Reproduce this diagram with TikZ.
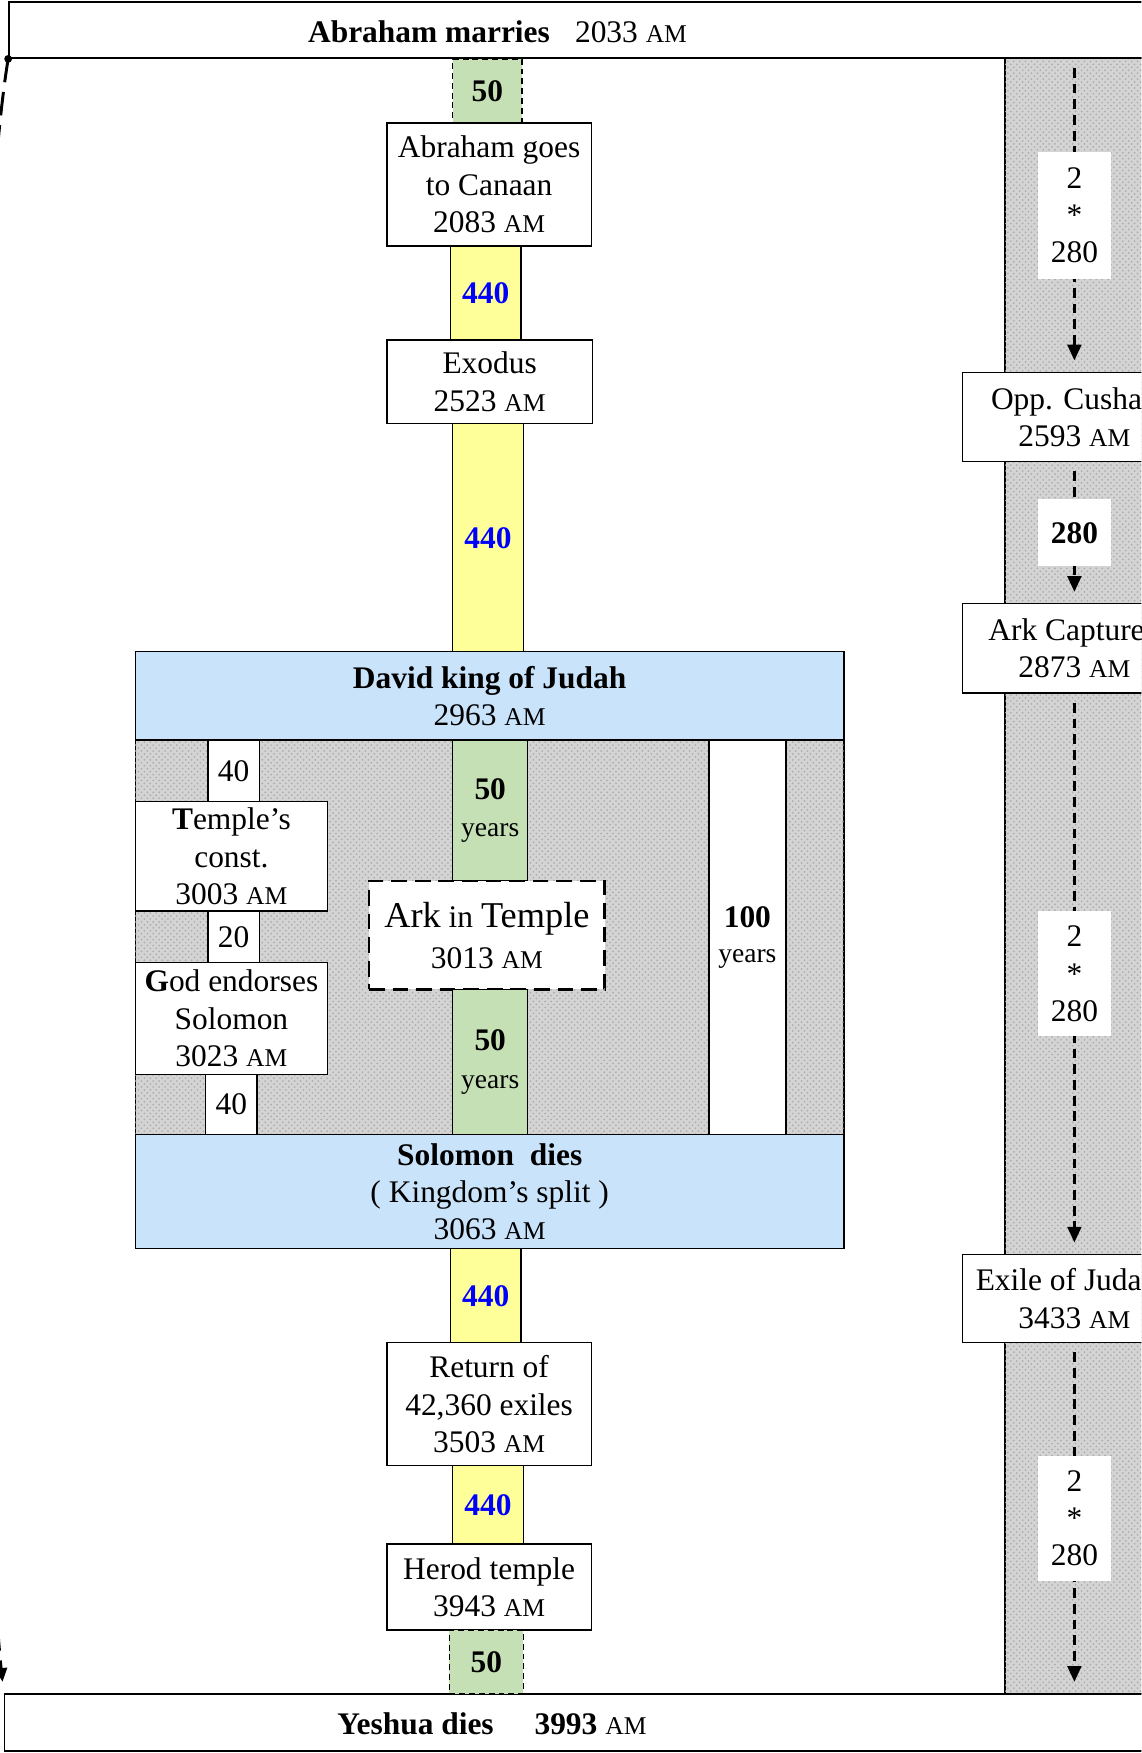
\documentclass[tikz,border=0pt]{standalone}
\usepackage{fontspec}
\setmainfont{Liberation Serif}
\usetikzlibrary{arrows.meta, positioning, patterns}
\definecolor{spangreen}{HTML}{C5E0B4}
\definecolor{spanyellow}{HTML}{FFFF99}
\definecolor{kingblue}{HTML}{C9E3FB}
\definecolor{yrblue}{HTML}{0000FF}
\newcommand{\amsc}{{\fontsize{13}{19}\selectfont AM}}
\tikzset{
  event/.style={draw, fill=white, line width=0.7pt, align=center, inner sep=0pt},
  bar/.style={draw, fill=white, line width=0.8pt, inner sep=0pt},
  king/.style={event, fill=kingblue},
  yspan/.style={draw, fill=spanyellow, line width=0.7pt, inner sep=0pt, text=yrblue, font=\fontsize{16}{19}\selectfont\bfseries},
  gspan/.style={draw, fill=spangreen, line width=0.7pt, inner sep=0pt, align=center},
  gdash/.style={gspan, dash pattern=on 3pt off 2pt},
  tick/.style={event, minimum width=0.92cm},
  hatch/.style={fill=black!17, line width=0.7pt, postaction={pattern=crosshatch dots, pattern color=black!32}},
  lbl/.style={fill=white, inner sep=0pt, minimum width=1.3cm, align=center},
  dasharrow/.style={line width=1.4pt, dash pattern=on 5pt off 3pt, shorten <=0.16cm, shorten >=0.2cm,
    -{Triangle[length=8pt,width=7pt]}},
  longarrow/.style={line width=1.5pt, dash pattern=on 12pt off 5pt, shorten >=0.2cm,
    -{Triangle[length=7pt,width=6pt]}}
}
\begin{document}
\begin{tikzpicture}[font=\fontsize{16}{19}\selectfont]
  \useasboundingbox (0,0) rectangle (20.42,-31.36);
  \clip (0,0) rectangle (20.42,-31.36);
  % shaded backgrounds
  \draw[hatch] (17.98,-1.04) rectangle (20.8,-30.3);
  \draw[hatch] (2.42,-13.24) rectangle (15.1,-20.3);
  % top and bottom bars
  \node[bar, minimum width=20.84cm, minimum height=1.0cm] (marry) at (10.58,-0.54) {};
  \node (marrytxt) at (8.9,-0.56) {\textbf{Abraham marries}\hspace{0.8em}2033 \amsc};
  \node[bar, minimum width=20.52cm, minimum height=1.02cm] (yeshua) at (10.34,-30.81) {};
  \node (yeshuatxt) at (8.8,-30.83) {\textbf{Yeshua dies}\hspace{1.3em}\textbf{3993} \amsc};
  % main column
  \node[gdash, minimum width=1.24cm, minimum height=1.14cm] (g1) at (8.72,-1.63) {\textbf{50}};
  \node[event, minimum width=3.66cm, minimum height=2.2cm] (canaan) at (8.75,-3.3) {Abraham goes\\to Canaan\\2083 \amsc};
  \node[yspan, minimum width=1.26cm, minimum height=1.68cm] (y1) at (8.69,-5.24) {440};
  \node[event, minimum width=3.68cm, minimum height=1.5cm] (exodus) at (8.76,-6.83) {Exodus\\2523 \amsc};
  \node[yspan, minimum width=1.26cm, minimum height=4.08cm] (y2) at (8.73,-9.62) {440};
  \node[king, minimum width=12.68cm, minimum height=1.58cm] (david) at (8.76,-12.45) {\textbf{David king of Judah}\\2963 \amsc};
  % reign of David and Solomon
  \node[tick, minimum height=1.1cm] (forty1) at (4.18,-13.79) {40};
  \node[event, minimum width=3.44cm, minimum height=1.96cm] (temple) at (4.14,-15.32) {\textbf{T}emple’s\\const.\\3003 \amsc};
  \node[tick, minimum height=0.92cm] (twenty) at (4.18,-16.76) {20};
  \node[event, minimum width=3.44cm, minimum height=2.0cm] (endorse) at (4.14,-18.22) {\textbf{G}od endorses\\Solomon\\3023 \amsc};
  \node[tick, minimum height=1.08cm] (forty2) at (4.14,-19.76) {40};
  \node[gspan, minimum width=1.34cm, minimum height=2.52cm] (g2) at (8.77,-14.5) {\textbf{50}\\{\fontsize{14}{16}\selectfont years}};
  \node[event, line width=1.4pt, dash pattern=on 8pt off 4pt, minimum width=4.22cm, minimum height=1.94cm] (arktemple) at (8.71,-16.73)
    {{\fontsize{18.5}{22}\selectfont Ark} in {\fontsize{18.5}{22}\selectfont Temple}\\[2pt]3013 \amsc};
  \node[gspan, minimum width=1.34cm, minimum height=2.6cm] (g3) at (8.77,-19.0) {\textbf{50}\\{\fontsize{14}{16}\selectfont years}};
  \node[event, minimum width=1.38cm, minimum height=7.06cm] (hundred) at (13.37,-16.77) {\textbf{100}\\[-1pt]{\fontsize{14}{16}\selectfont years}};
  \node[king, minimum width=12.68cm, minimum height=2.04cm] (solomon) at (8.76,-21.32) {\textbf{Solomon\ \ dies}\\( Kingdom’s split )\\3063 \amsc};
  \node[yspan, minimum width=1.26cm, minimum height=1.68cm] (y3) at (8.69,-23.18) {440};
  \node[event, minimum width=3.66cm, minimum height=2.2cm] (return) at (8.75,-25.12) {Return of\\42,360 exiles\\3503 \amsc};
  \node[yspan, minimum width=1.26cm, minimum height=1.4cm] (y4) at (8.73,-26.92) {440};
  \node[event, minimum width=3.66cm, minimum height=1.54cm] (herod) at (8.75,-28.39) {Herod temple\\3943 \amsc};
  \node[gdash, minimum width=1.32cm, minimum height=1.14cm] (g4) at (8.7,-29.73) {\textbf{50}};
  % right column
  \node[event, minimum width=4.0cm, minimum height=1.6cm] (cusha) at (19.22,-7.46) {Opp. Cusha\phantom{n}\\2593 \amsc};
  \node[event, minimum width=4.0cm, minimum height=1.6cm] (arkcap) at (19.22,-11.6) {Ark Capture\phantom{d}\\2873 \amsc};
  \node[event, minimum width=4.0cm, minimum height=1.58cm] (exile) at (19.22,-23.23) {Exile of Juda\phantom{hh}\\3433 \amsc};
  \draw[dasharrow] (marry.south -| cusha.north) -- node[lbl, minimum height=2.28cm] {2\\*\\280} (cusha.north);
  \draw[dasharrow] (cusha.south) -- node[lbl, minimum height=1.2cm] {\textbf{280}} (arkcap.north);
  \draw[dasharrow] (arkcap.south) -- node[lbl, minimum height=2.24cm] {2\\*\\280} (exile.north);
  \draw[dasharrow] (exile.south) -- node[lbl, minimum height=2.24cm] {2\\*\\280} (yeshua.north -| exile.south);
  % long arrow on the left
  \fill (marry.south west) circle (0.07);
  \draw[longarrow] (marry.south west) .. controls (-0.7,-6.2) and (-0.4,-25.8) .. (yeshua.north west);
\end{tikzpicture}
\end{document}
